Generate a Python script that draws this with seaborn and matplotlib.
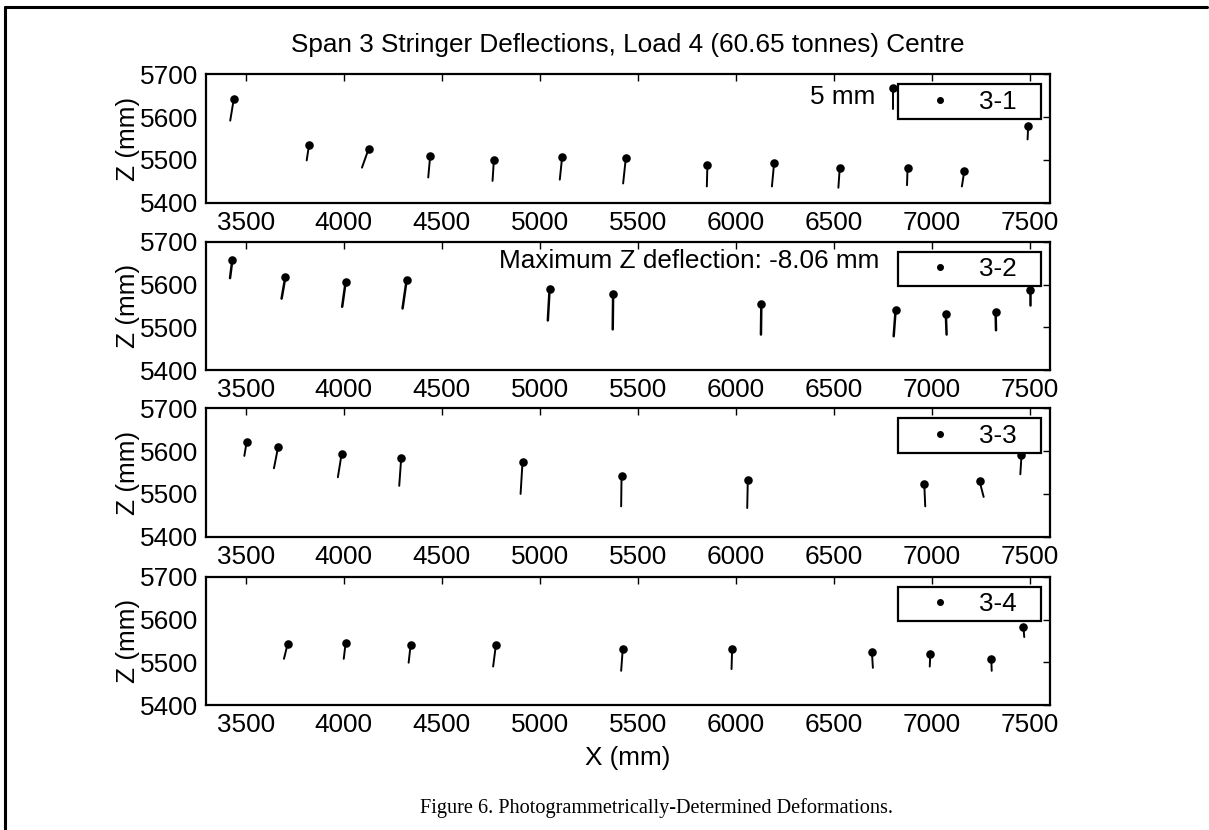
import matplotlib
matplotlib.use("Agg")
import matplotlib.pyplot as plt
from matplotlib.lines import Line2D
import numpy as np
import pandas as pd
import seaborn as sns

# ---------------- data ----------------
title = "Span 3 Stringer Deflections, Load 4 (60.65 tonnes) Centre"
caption = "Figure 6. Photogrammetrically-Determined Deformations."
stringers = ["3-1", "3-2", "3-3", "3-4"]

# dot positions (mm) and drawn deflection vectors (plot units)
x1 = [3439, 3823, 4127, 4441, 4766, 5114, 5439, 5855, 6195, 6530, 6876, 7165, 7491]
z1 = [5642, 5535, 5526, 5510, 5501, 5507, 5505, 5489, 5492, 5482, 5482, 5474, 5579]
dx1 = [-18, -12, -34, -10, -7, -12, -14, -3, -11, -7, -3, -12, -3]
dz1 = [-50, -36, -44, -51, -50, -53, -60, -51, -54, -47, -41, -36, -31]

x2 = [3432, 3702, 4010, 4321, 5050, 5374, 6130, 6815, 7071, 7325, 7500]
z2 = [5658, 5617, 5607, 5611, 5589, 5577, 5554, 5541, 5532, 5535, 5588]
dx2 = [-12, -19, -18, -21, -9, -2, -2, -10, 4, 2, 0]
dz2 = [-43, -50, -59, -67, -73, -82, -71, -62, -49, -42, -37]

x3 = [3505, 3665, 3989, 4293, 4912, 5417, 6061, 6961, 7243, 7457]
z3 = [5622, 5609, 5593, 5583, 5575, 5543, 5533, 5524, 5530, 5590]
dx3 = [-12, -21, -19, -10, -10, -2, -3, 5, 21, -6]
dz3 = [-33, -49, -54, -64, -75, -72, -66, -53, -37, -44]

x4 = [3714, 4010, 4341, 4776, 5423, 5981, 6694, 6992, 7303, 7467]
z4 = [5543, 5546, 5540, 5540, 5530, 5530, 5524, 5520, 5508, 5582]
dx4 = [-19, -10, -10, -14, -8, -3, 5, -3, 2, 4]
dz4 = [-35, -38, -41, -50, -50, -46, -37, -30, -28, -23]

# 5 mm scale marker (panel 1)
scale_x = [6801]
scale_z = [5668]
scale_dz = [-48]
scale_label = "5 mm"
max_label = "Maximum Z deflection: -8.06 mm"

x_ticks = [3500, 4000, 4500, 5000, 5500, 6000, 6500, 7000, 7500]
z_ticks = [5400, 5500, 5600, 5700]
x_lim = (3300, 7600)
z_lim = (5400, 5700)

panels = [(x1, z1, dx1, dz1), (x2, z2, dx2, dz2), (x3, z3, dx3, dz3), (x4, z4, dx4, dz4)]
line_widths = [1.4, 1.8, 1.4, 1.4]

# ---------------- style ----------------
sns.set_style("white")
plt.rcParams["font.family"] = ["Liberation Sans", "DejaVu Sans"]
plt.rcParams["text.color"] = "black"
plt.rcParams["axes.labelcolor"] = "black"
plt.rcParams["xtick.color"] = "black"
plt.rcParams["ytick.color"] = "black"
FS = 18.8

fig = plt.figure(figsize=(12.09, 8.30), dpi=100)

left, width, height = 0.1708, 0.6973, 0.1545
bottoms = [0.7558, 0.5542, 0.3534, 0.1506]
axes = [fig.add_axes([left, b, width, height]) for b in bottoms]


def segments_frame(xs, zs, dxs, dzs):
    rows = []
    for i, (x, z, dx, dz) in enumerate(zip(xs, zs, dxs, dzs)):
        rows.append({"seg": i, "x": x, "z": z, "k": 0})
        rows.append({"seg": i, "x": x + dx, "z": z + dz, "k": 1})
    return pd.DataFrame(rows)


for ax, (xs, zs, dxs, dzs), name, lw in zip(axes, panels, stringers, line_widths):
    seg = segments_frame(xs, zs, dxs, dzs)
    sns.lineplot(data=seg, x="x", y="z", units="seg", estimator=None, sort=False,
                 color="black", linewidth=lw, ax=ax, legend=False)
    pts = pd.DataFrame({"x": xs, "z": zs})
    sns.scatterplot(data=pts, x="x", y="z", color="black", s=38, edgecolor="black",
                    linewidth=0, ax=ax, legend=False, zorder=3)
    ax.set_xlim(*x_lim)
    ax.set_ylim(*z_lim)
    ax.set_xticks(x_ticks)
    ax.set_yticks(z_ticks)
    ax.tick_params(direction="in", top=True, right=True, length=5, width=1.0,
                   labelsize=FS, pad=6, colors="black")
    for sp in ax.spines.values():
        sp.set_linewidth(1.6)
        sp.set_color("black")
        sp.set_visible(True)
    ax.set_xlabel("")
    ax.set_ylabel("Z (mm)", fontsize=FS, labelpad=0)
    handle = Line2D([], [], linestyle="none", marker="o", markersize=4,
                    color="black")
    leg = ax.legend([handle], [name], loc="upper left",
                    bbox_to_anchor=(0.8207, 0.633, 0.1689, 0.289), mode="expand",
                    borderaxespad=0, fontsize=FS, frameon=True, fancybox=False,
                    framealpha=1, edgecolor="black", borderpad=0.2,
                    handlelength=2.75, handletextpad=0.12)
    leg.get_frame().set_linewidth(1.6)
    leg.set_zorder(10)

# 5 mm scale marker in the first panel
ax0 = axes[0]
seg = segments_frame(scale_x, scale_z, [0], scale_dz)
sns.lineplot(data=seg, x="x", y="z", units="seg", estimator=None, sort=False,
             color="black", linewidth=1.4, ax=ax0, legend=False)
sns.scatterplot(x=scale_x, y=scale_z, color="black", s=38, linewidth=0, ax=ax0,
                legend=False, zorder=3)
ax0.set_xlabel("")
ax0.set_ylabel("Z (mm)", fontsize=FS, labelpad=0)
ax0.text(6713, 5648, scale_label, fontsize=FS, ha="right", va="center")
axes[1].text(6733, 5655, max_label, fontsize=FS, ha="right", va="center")

ax0.set_title(title, fontsize=FS, pad=16)
axes[-1].set_xlabel("X (mm)", fontsize=FS, labelpad=6)

# caption and page border
fig.text(0.543, 0.027, caption, fontsize=14.6, ha="center", va="center",
         family=["Liberation Serif", "DejaVu Serif"])
fig.add_artist(Line2D([5 / 1209, 1207 / 1209], [1 - 7 / 830, 1 - 7 / 830],
                      color="black", linewidth=2.2, transform=fig.transFigure))
fig.add_artist(Line2D([5 / 1209, 5 / 1209], [1 - 7 / 830, 0.0],
                      color="black", linewidth=2.2, transform=fig.transFigure))

fig.savefig("out.png", dpi=100, facecolor="white")
